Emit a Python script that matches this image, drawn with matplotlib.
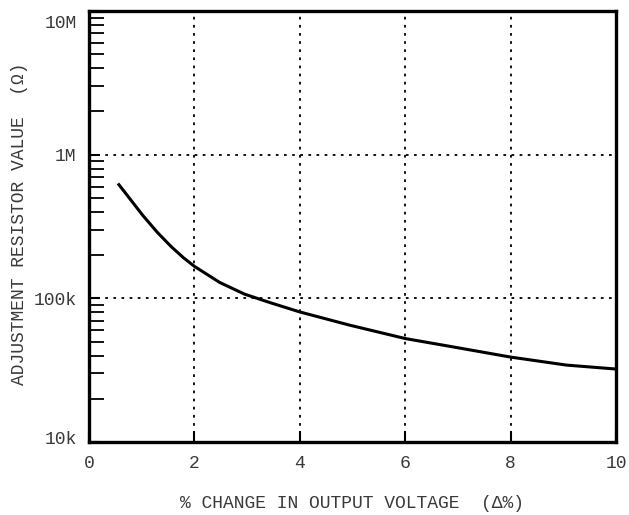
import matplotlib
matplotlib.use('Agg')
import matplotlib.pyplot as plt
from matplotlib.ticker import FixedLocator, NullFormatter
import matplotlib.transforms as mtransforms

# curve
change_pct = [0.55, 0.84, 1.02, 1.30, 1.56, 1.79, 2.0, 2.48, 2.95, 3.43, 4.0, 4.95, 6.0, 6.91, 8.0, 9.06, 10.0]
resistor = [630e3, 460e3, 378e3, 287e3, 229e3, 192e3, 167e3, 129e3, 107e3, 93.5e3, 80.4e3, 65e3,
            52.5e3, 45.9e3, 39e3, 34.3e3, 32.2e3]

x_ticks = [0, 2, 4, 6, 8, 10]
y_ticks = [1e4, 1e5, 1e6, 1e7]
y_labels = ['10k', '100k', '1M', '10M']

plt.rcParams['font.family'] = ['Liberation Mono', 'DejaVu Sans Mono']
txt_col = '#3a3a3a'
fs = 13

W, H = 629, 515
fig = plt.figure(figsize=(W/100, H/100), dpi=100)
ax = fig.add_axes([89/W, 1-442/H, (616-89)/W, (442-11)/H])

ax.plot(change_pct, resistor, color='black', lw=2.2, solid_capstyle='butt', solid_joinstyle='round')

ax.set_yscale('log')
ax.set_xlim(0, 10)
ax.set_ylim(1e4, 1e7)

ax.set_xticks(x_ticks)
ax.set_xticklabels([str(v) for v in x_ticks], fontsize=fs, color=txt_col)
ax.set_yticks(y_ticks)
ax.set_yticklabels(y_labels, fontsize=fs, color=txt_col)
ax.yaxis.set_minor_locator(FixedLocator([m * 10**e for e in range(4, 7) for m in range(2, 10)]))
ax.yaxis.set_minor_formatter(NullFormatter())

ax.tick_params(axis='both', which='major', direction='in', length=8, width=1.5)
ax.tick_params(axis='x', which='major', pad=9)
ax.tick_params(axis='y', which='major', pad=9)
ax.tick_params(axis='y', which='minor', direction='in', length=11, width=1.3)
ax.tick_params(axis='x', which='minor', length=0)

ax.grid(True, which='major', color='black', linestyle=(0, (1.5, 3)), linewidth=1.3)

for s in ax.spines.values():
    s.set_linewidth(2.4)

# nudge the end labels to sit inside the box like the original
labs = ax.get_yticklabels()
labs[0].set_transform(labs[0].get_transform() + mtransforms.ScaledTranslation(0, 5/100, fig.dpi_scale_trans))
labs[-1].set_transform(labs[-1].get_transform() + mtransforms.ScaledTranslation(0, -11/100, fig.dpi_scale_trans))

# axis titles placed where the original has them
fig.text(352/W, 1-503/H, '% CHANGE IN OUTPUT VOLTAGE  (\u0394%)', fontsize=fs, color=txt_col,
         ha='center', va='center')
fig.text(20/W, 1-224/H, 'ADJUSTMENT RESISTOR VALUE  (\u03a9)', fontsize=fs, color=txt_col,
         ha='center', va='center', rotation=90)

fig.savefig('out.png', dpi=100)
